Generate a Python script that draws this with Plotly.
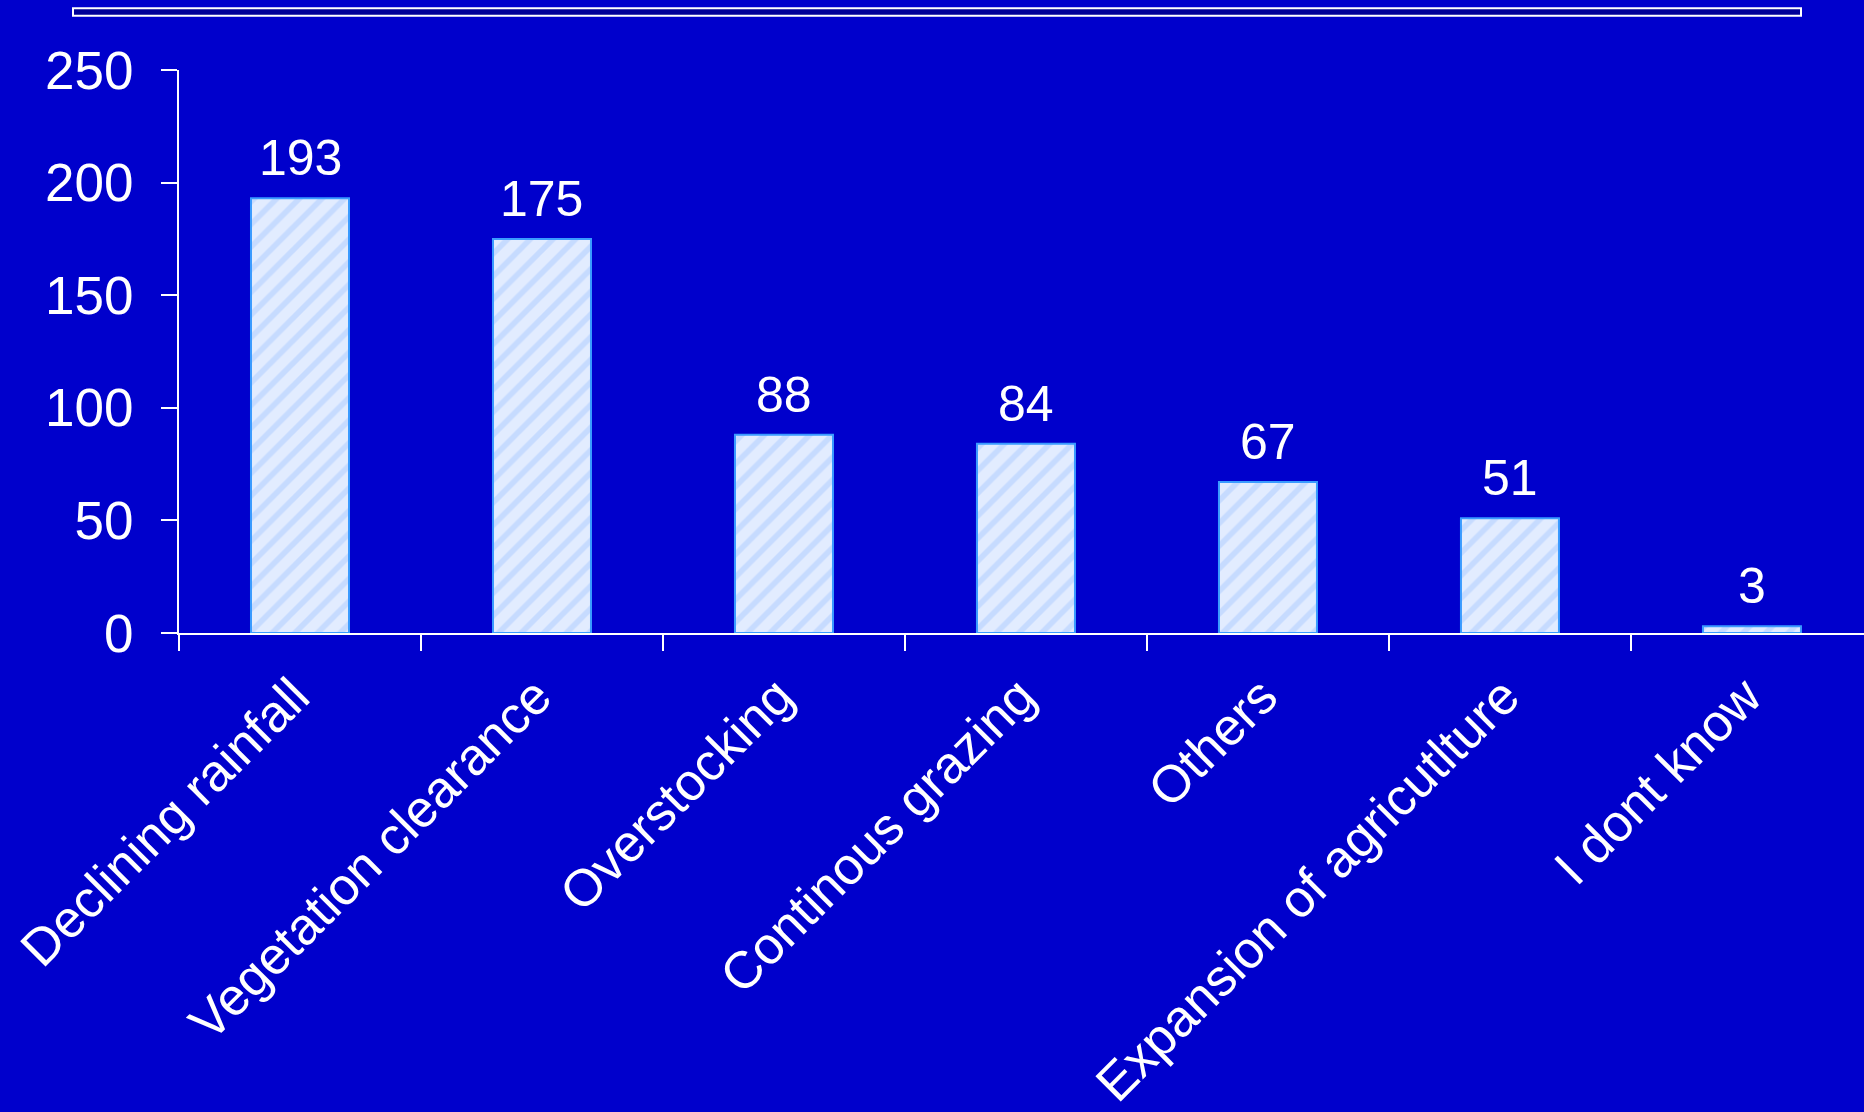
import plotly.graph_objects as go

categories = ["Declining rainfall", "Vegetation clearance", "Overstocking",
              "Continous grazing", "Others", "Expansion of agricutlture", "I dont know"]
values = [193, 175, 88, 84, 67, 51, 3]
y_ticks = [0, 50, 100, 150, 200, 250]

BG = "#0000CC"
FONT = "Liberation Sans, Arial, sans-serif"

fig = go.Figure()
fig.add_trace(go.Bar(
    x=categories, y=values, width=0.405,
    marker=dict(
        color="#E2ECFF",
        line=dict(color="#3A9BFF", width=2),
        pattern=dict(shape="/", fgcolor="#A9C9FF", bgcolor="#E2ECFF", size=16, solidity=0.35),
    ),
    hoverinfo="x+y",
))

for c, v in zip(categories, values):
    fig.add_annotation(x=c, y=v, text=str(v), showarrow=False, yanchor="bottom",
                       yshift=10, font=dict(family=FONT, size=50, color="white"))

# Title placeholder bar at top
fig.add_shape(type="rect", xref="paper", yref="paper",
              x0=(73 - 179) / 1685, x1=(1801 - 179) / 1685,
              y0=(635 - 15.5) / 565, y1=(635 - 8) / 565,
              line=dict(color="white", width=2), fillcolor="#000099", layer="above")

fig.update_layout(
    width=1864, height=1112,
    paper_bgcolor=BG, plot_bgcolor=BG,
    margin=dict(l=179, r=0, t=70, b=477),
    showlegend=False,
    font=dict(family=FONT, size=52, color="white"),
    xaxis=dict(
        range=[-0.5, 6.463], showgrid=False, zeroline=False,
        showline=True, linecolor="white", linewidth=2,
        ticks="outside", tickson="boundaries", ticklen=16, tickwidth=2, tickcolor="white",
        tickangle=-45, ticklabelstandoff=10, ticklabelshift=-6,
        tickfont=dict(family=FONT, size=52, color="white"),
    ),
    yaxis=dict(
        range=[0, 250], tickvals=y_ticks, showgrid=False, zeroline=False,
        showline=True, linecolor="white", linewidth=2,
        ticks="outside", ticklen=16, tickwidth=2, tickcolor="white",
        ticklabelstandoff=17,
        tickfont=dict(family=FONT, size=53, color="white"),
    ),
)

fig.write_html("out.html")
